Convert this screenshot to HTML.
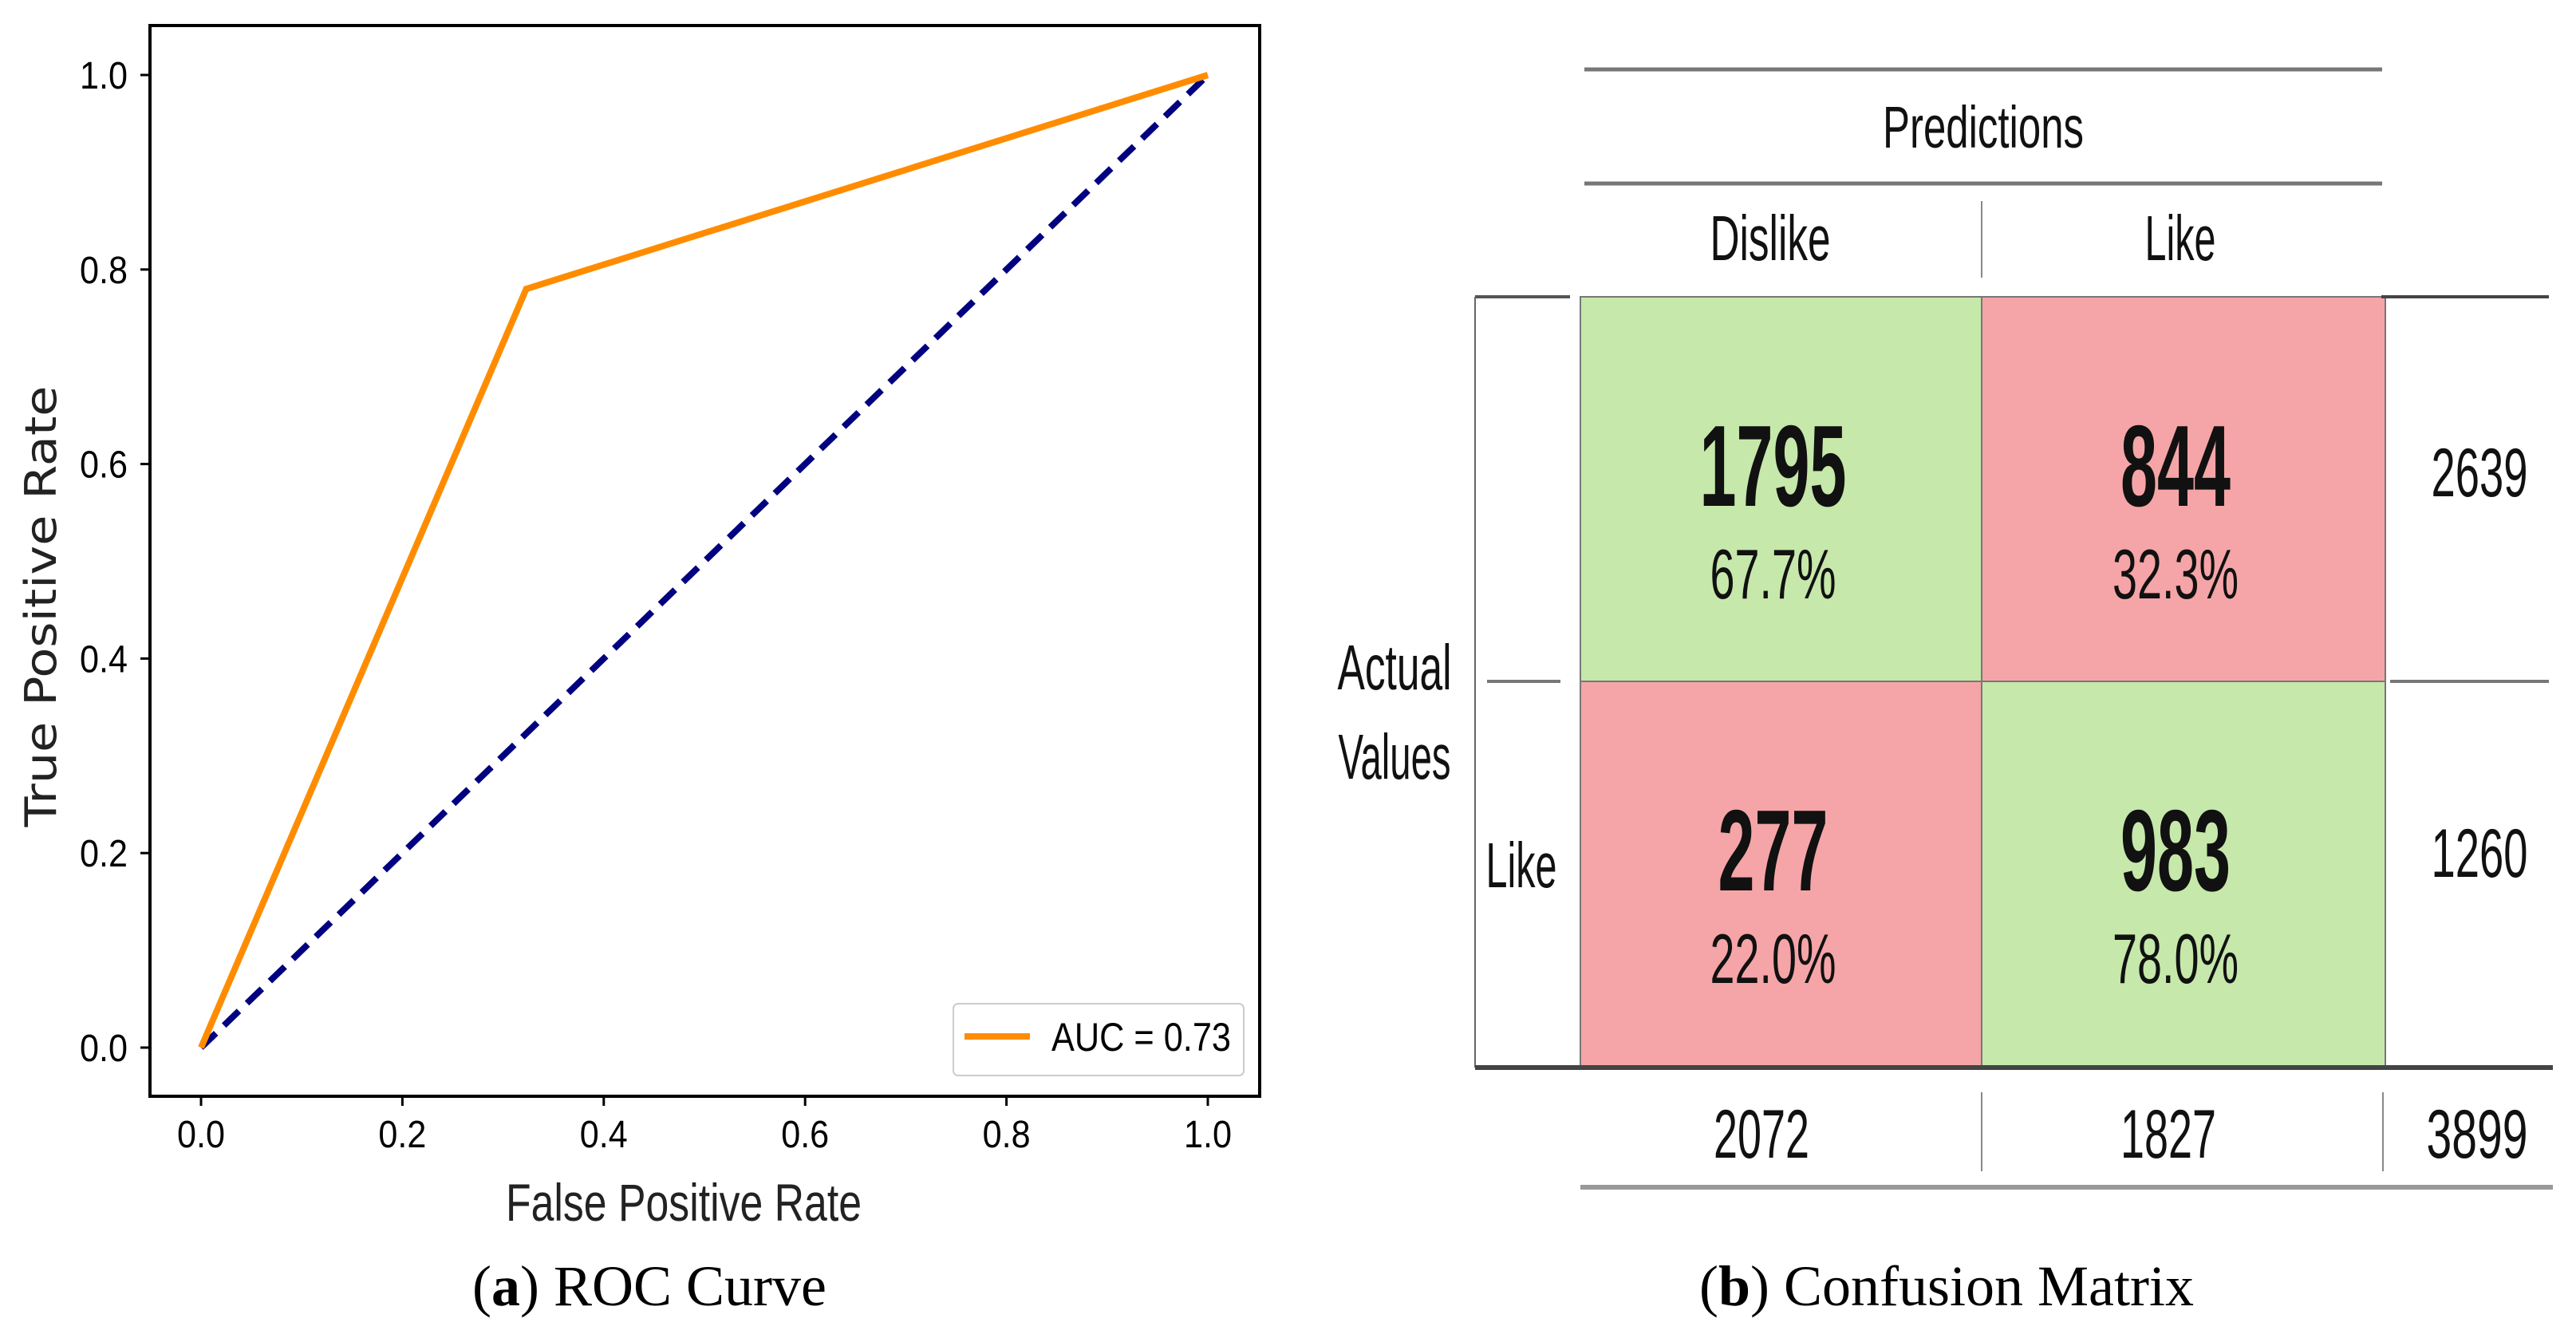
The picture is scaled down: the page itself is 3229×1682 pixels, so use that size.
<!DOCTYPE html>
<html><head><meta charset="utf-8"><style>
html,body{margin:0;padding:0;background:#fff;width:3229px;height:1682px;overflow:hidden}
svg{display:block}
.n{font-family:"Liberation Sans Narrow","Liberation Sans",sans-serif}
.s{font-family:"Liberation Serif",serif}
</style></head><body>
<svg id="fig" width="3229" height="1682" viewBox="0 0 3229 1682">
<g id="roc"></g>
<g id="cm"></g>
<text x="814" y="1636" class="s" font-size="72" text-anchor="middle">(<tspan font-weight="bold">a</tspan>) ROC Curve</text>
<text x="2440" y="1636" class="s" font-size="72" text-anchor="middle">(<tspan font-weight="bold">b</tspan>) Confusion Matrix</text>
</svg>
<script>
const rocFpr=[0,0.323,1];
const rocTpr=[0,0.78,1];
const chanceFpr=[0,1];
const chanceTpr=[0,1];
const xTicks=[0,0.2,0.4,0.6,0.8,1.0];
const yTicks=[0,0.2,0.4,0.6,0.8,1.0];
const tickLabels=["0.0","0.2","0.4","0.6","0.8","1.0"];
const aucLabel="AUC = 0.73";

const cmRowLabels=["Dislike","Like"];
const cmColLabels=["Dislike","Like"];
const cmCounts=[[1795,844],[277,983]];
const cmPercents=["67.7%","32.3%","22.0%","78.0%"];
const cmRowTotals=[2639,1260];
const cmColTotals=[2072,1827];
const cmGrandTotal=3899;

const NS="http://www.w3.org/2000/svg";
function mk(tag,attrs,parent,txt){const e=document.createElementNS(NS,tag);for(const k in attrs)e.setAttribute(k,attrs[k]);if(txt!==undefined)e.textContent=txt;parent.appendChild(e);return e;}
const X=v=>252+v*1262, Y=v=>1313-v*1219;
const roc=document.getElementById('roc');
let fr=mk('rect',{x:188,y:32,width:1391,height:1342,fill:'none',stroke:'#000','stroke-width':4},roc);


xTicks.forEach((v,i)=>{
 let t=mk('line',{x1:X(v),x2:X(v),y1:1374,y2:1386,stroke:'#000','stroke-width':3},roc);
 
 
 let l=mk('text',{x:X(v),y:1438,'text-anchor':'middle','font-size':48,textLength:60,lengthAdjust:'spacingAndGlyphs',class:'n'},roc,tickLabels[i]);
 
 
});
yTicks.forEach((v,i)=>{
 let t=mk('line',{x1:176,x2:188,y1:Y(v),y2:Y(v),stroke:'#000','stroke-width':3},roc);
 
 
 let l=mk('text',{x:160,y:Y(v)+17,'text-anchor':'end','font-size':48,textLength:60,lengthAdjust:'spacingAndGlyphs',class:'n'},roc,tickLabels[i]);
 
 
});
let xt=mk('text',{x:857,y:1530,'text-anchor':'middle','font-size':66,textLength:446,lengthAdjust:'spacingAndGlyphs',class:'n',fill:'#222'},roc,'False Positive Rate');


let yt=mk('text',{x:0,y:0,'text-anchor':'middle','font-size':54,textLength:553,lengthAdjust:'spacingAndGlyphs','font-family':'DejaVu Sans, sans-serif',fill:'#222',transform:'translate(70,760) rotate(-90)'},roc,'True Positive Rate');


let ch=mk('polyline',{points:chanceFpr.map((v,i)=>X(v)+','+Y(chanceTpr[i])).join(' '),fill:'none',stroke:'#000080','stroke-width':8,'stroke-dasharray':'26 14'},roc);


let rl=mk('polyline',{points:rocFpr.map((v,i)=>X(v)+','+Y(rocTpr[i])).join(' '),fill:'none',stroke:'#ff8c00','stroke-width':8,'stroke-linejoin':'miter'},roc);


let lg=mk('g',{},roc);


mk('rect',{x:1195,y:1258,width:364,height:90,rx:6,fill:'#fff',stroke:'#ccc','stroke-width':2},lg);
let le=mk('line',{x1:1209,x2:1291,y1:1299,y2:1299,stroke:'#ff8c00','stroke-width':8},lg);


mk('text',{x:1318,y:1317,'font-size':50,textLength:225,lengthAdjust:'spacingAndGlyphs',class:'n'},lg,aucLabel);

const cm=document.getElementById('cm');
const cx=[1981,2484,2990], cy=[372,854,1338];
const colors=[['#c6e8ab','#f5a5a7'],['#f5a5a7','#c6e8ab']];
function T(x,y,s,w,txt,name,bold){let t=mk('text',{x:x,y:y,'text-anchor':'middle','font-size':s,textLength:w,lengthAdjust:'spacingAndGlyphs',class:'n',fill:'#111','font-weight':bold?'bold':'normal'},cm,txt);return t;}
for(let r=0;r<2;r++)for(let c=0;c<2;c++){
 let rc=mk('rect',{x:cx[c],y:cy[r],width:cx[c+1]-cx[c],height:cy[r+1]-cy[r],fill:colors[r][c],stroke:'#777','stroke-width':2},cm);
 
 
 const mx=(cx[c]+cx[c+1])/2-10, top=cy[r];
 const s=String(cmCounts[r][c]);
 T(mx,top+262,145,s.length*46,s,'cell-count',true);
 T(mx,top+378,88,158,cmPercents[r*2+c],'cell-percent',false);
}
function L(x1,y1,x2,y2,w,col,name){let l=mk('line',{x1:x1,y1:y1,x2:x2,y2:y2,stroke:col,'stroke-width':w},cm);}
L(1986,87,2986,87,5,'#777','top-rule');
L(1986,230,2986,230,5,'#777','predictions-rule');
L(2484,252,2484,348,2,'#888','header-separator');
L(1849,372,1968,372,4,'#555','bracket-top');
L(2985,372,3195,372,4,'#444','right-top-rule');
L(1849,372,1849,1338,2,'#666','bracket-left');
L(1864,854,1956,854,4,'#777','mid-rule-left');
L(2996,854,3195,854,4,'#777','mid-rule-right');
L(1849,1338,3200,1338,6,'#444','bottom-grid-rule');
L(2484,1369,2484,1468,2,'#888','total-separator-1');
L(2987,1369,2987,1468,2,'#888','total-separator-2');
L(1981,1488,3200,1488,6,'#999','bottom-rule');
T(2486,185,74,252,'Predictions','predictions-label');
T(2219,326,80,151,cmColLabels[0],'col-label-dislike');
T(2733,326,80,89,cmColLabels[1],'col-label-like');
T(1748,864,80,143,'Actual','actual-label');
T(1748,976,80,141,'Values','values-label');
T(1907,1112,80,89,cmRowLabels[1],'row-label-like');
cmRowTotals.forEach((v,i)=>T(3108,(i?1070:593)+29,86,121,String(v),'row-total'));
cmColTotals.forEach((v,i)=>T(i?2718:2208,1451,86,120,String(v),'col-total'));
T(3105,1451,86,127,String(cmGrandTotal),'grand-total');
</script>
</body></html>
